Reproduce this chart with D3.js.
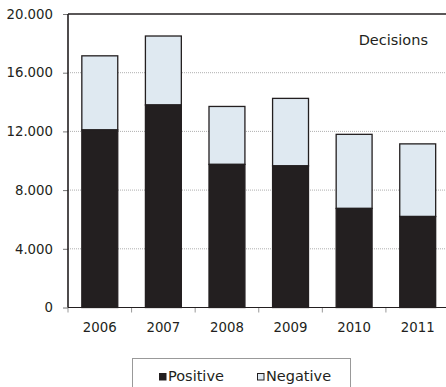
<!DOCTYPE html>
<html><head><meta charset="utf-8">
<script src="https://cdn.jsdelivr.net/npm/d3@7"></script>
<style>body{margin:0;background:#fff}svg{display:block}text{font-family:"DejaVu Sans",sans-serif;fill:#231f20}</style>
</head><body><svg id="c" width="446" height="387"></svg>
<script>
const years = ["2006","2007","2008","2009","2010","2011"];
const positive = [12100, 13800, 9750, 9650, 6750, 6200];
const negative = [5050, 4700, 3950, 4600, 5050, 4950];
const yTicks = [0, 4000, 8000, 12000, 16000, 20000];
const seriesNames = ["Positive", "Negative"];
const colors = ["#231f20", "#dfe9f1"];

const svg = d3.select("#c");
const pL = 68, pR = 449.5, pT = 14, pB = 307.5;
const x = d3.scaleBand().domain(years).range([pL, pR]).padding(0);
const y = d3.scaleLinear().domain([0, 20000]).range([pB, pT]);
const fmt = v => d3.format(",")(v).replace(/,/g, ".");

// gridlines
svg.append("g").selectAll("line").data(yTicks.filter(v => v > 0 && v < 20000)).join("line")
  .attr("x1", pL).attr("x2", 446).attr("y1", d => y(d)).attr("y2", d => y(d))
  .attr("stroke", "#9a9a9a").attr("stroke-width", 0.8).attr("stroke-dasharray", "1,1");

// y axis
const yAxis = svg.append("g").attr("transform", `translate(${pL},0)`)
  .call(d3.axisLeft(y).tickValues(yTicks).tickFormat(fmt).tickSize(5).tickPadding(10));
yAxis.select(".domain").remove();
yAxis.selectAll(".tick line").attr("stroke", "#777");
yAxis.selectAll(".tick text").attr("font-size", 13.3).attr("fill", "#231f20").attr("font-family", "DejaVu Sans");

// x axis ticks at band boundaries
const bounds = years.map(d => x(d)).concat([x(years[years.length-1]) + x.bandwidth()]);
svg.append("g").selectAll("line").data(bounds).join("line")
  .attr("x1", d => d).attr("x2", d => d).attr("y1", pB).attr("y2", pB + 5)
  .attr("stroke", "#999");
svg.append("g").selectAll("text").data(years).join("text")
  .attr("x", d => x(d) + x.bandwidth()/2).attr("y", 332)
  .attr("text-anchor", "middle").attr("font-size", 13.3).text(d => d);

// bars
const bw = x.bandwidth() * 0.565;
const data = years.map((yr, i) => ({yr, p: positive[i], n: negative[i]}));
const g = svg.append("g");
data.forEach(d => {
  const cx = x(d.yr) + x.bandwidth()/2;
  g.append("rect").attr("x", cx - bw/2).attr("width", bw)
    .attr("y", y(d.p + d.n)).attr("height", y(d.p) - y(d.p + d.n))
    .attr("fill", colors[1]).attr("stroke", "#231f20").attr("stroke-width", 1.3);
  g.append("rect").attr("x", cx - bw/2).attr("width", bw)
    .attr("y", y(d.p)).attr("height", y(0) - y(d.p))
    .attr("fill", colors[0]).attr("stroke", "#231f20").attr("stroke-width", 1.3);
});

// frame
svg.append("line").attr("x1", pL).attr("x2", 446).attr("y1", pT).attr("y2", pT).attr("stroke", "#231f20").attr("stroke-width", 1.6);
svg.append("line").attr("x1", pL).attr("x2", pL).attr("y1", pT).attr("y2", pB).attr("stroke", "#231f20").attr("stroke-width", 1.6);
svg.append("line").attr("x1", pL).attr("x2", 446).attr("y1", pB).attr("y2", pB).attr("stroke", "#231f20").attr("stroke-width", 1.2);

svg.append("text").attr("x", 428).attr("y", 45).attr("text-anchor", "end").attr("font-size", 14.5).text("Decisions");

// legend
svg.append("rect").attr("x", 132.5).attr("y", 358.5).attr("width", 218).attr("height", 40)
  .attr("fill", "none").attr("stroke", "#999");
const lx = [159, 257];
seriesNames.forEach((s, i) => {
  svg.append("rect").attr("x", lx[i] + 0.5).attr("y", 373.5).attr("width", 6.5).attr("height", 6.5)
    .attr("fill", colors[i]).attr("stroke", "#231f20").attr("stroke-width", 1);
  svg.append("text").attr("x", lx[i] + 9).attr("y", 380.5).attr("font-size", 14.5).text(s);
});
</script></body></html>
